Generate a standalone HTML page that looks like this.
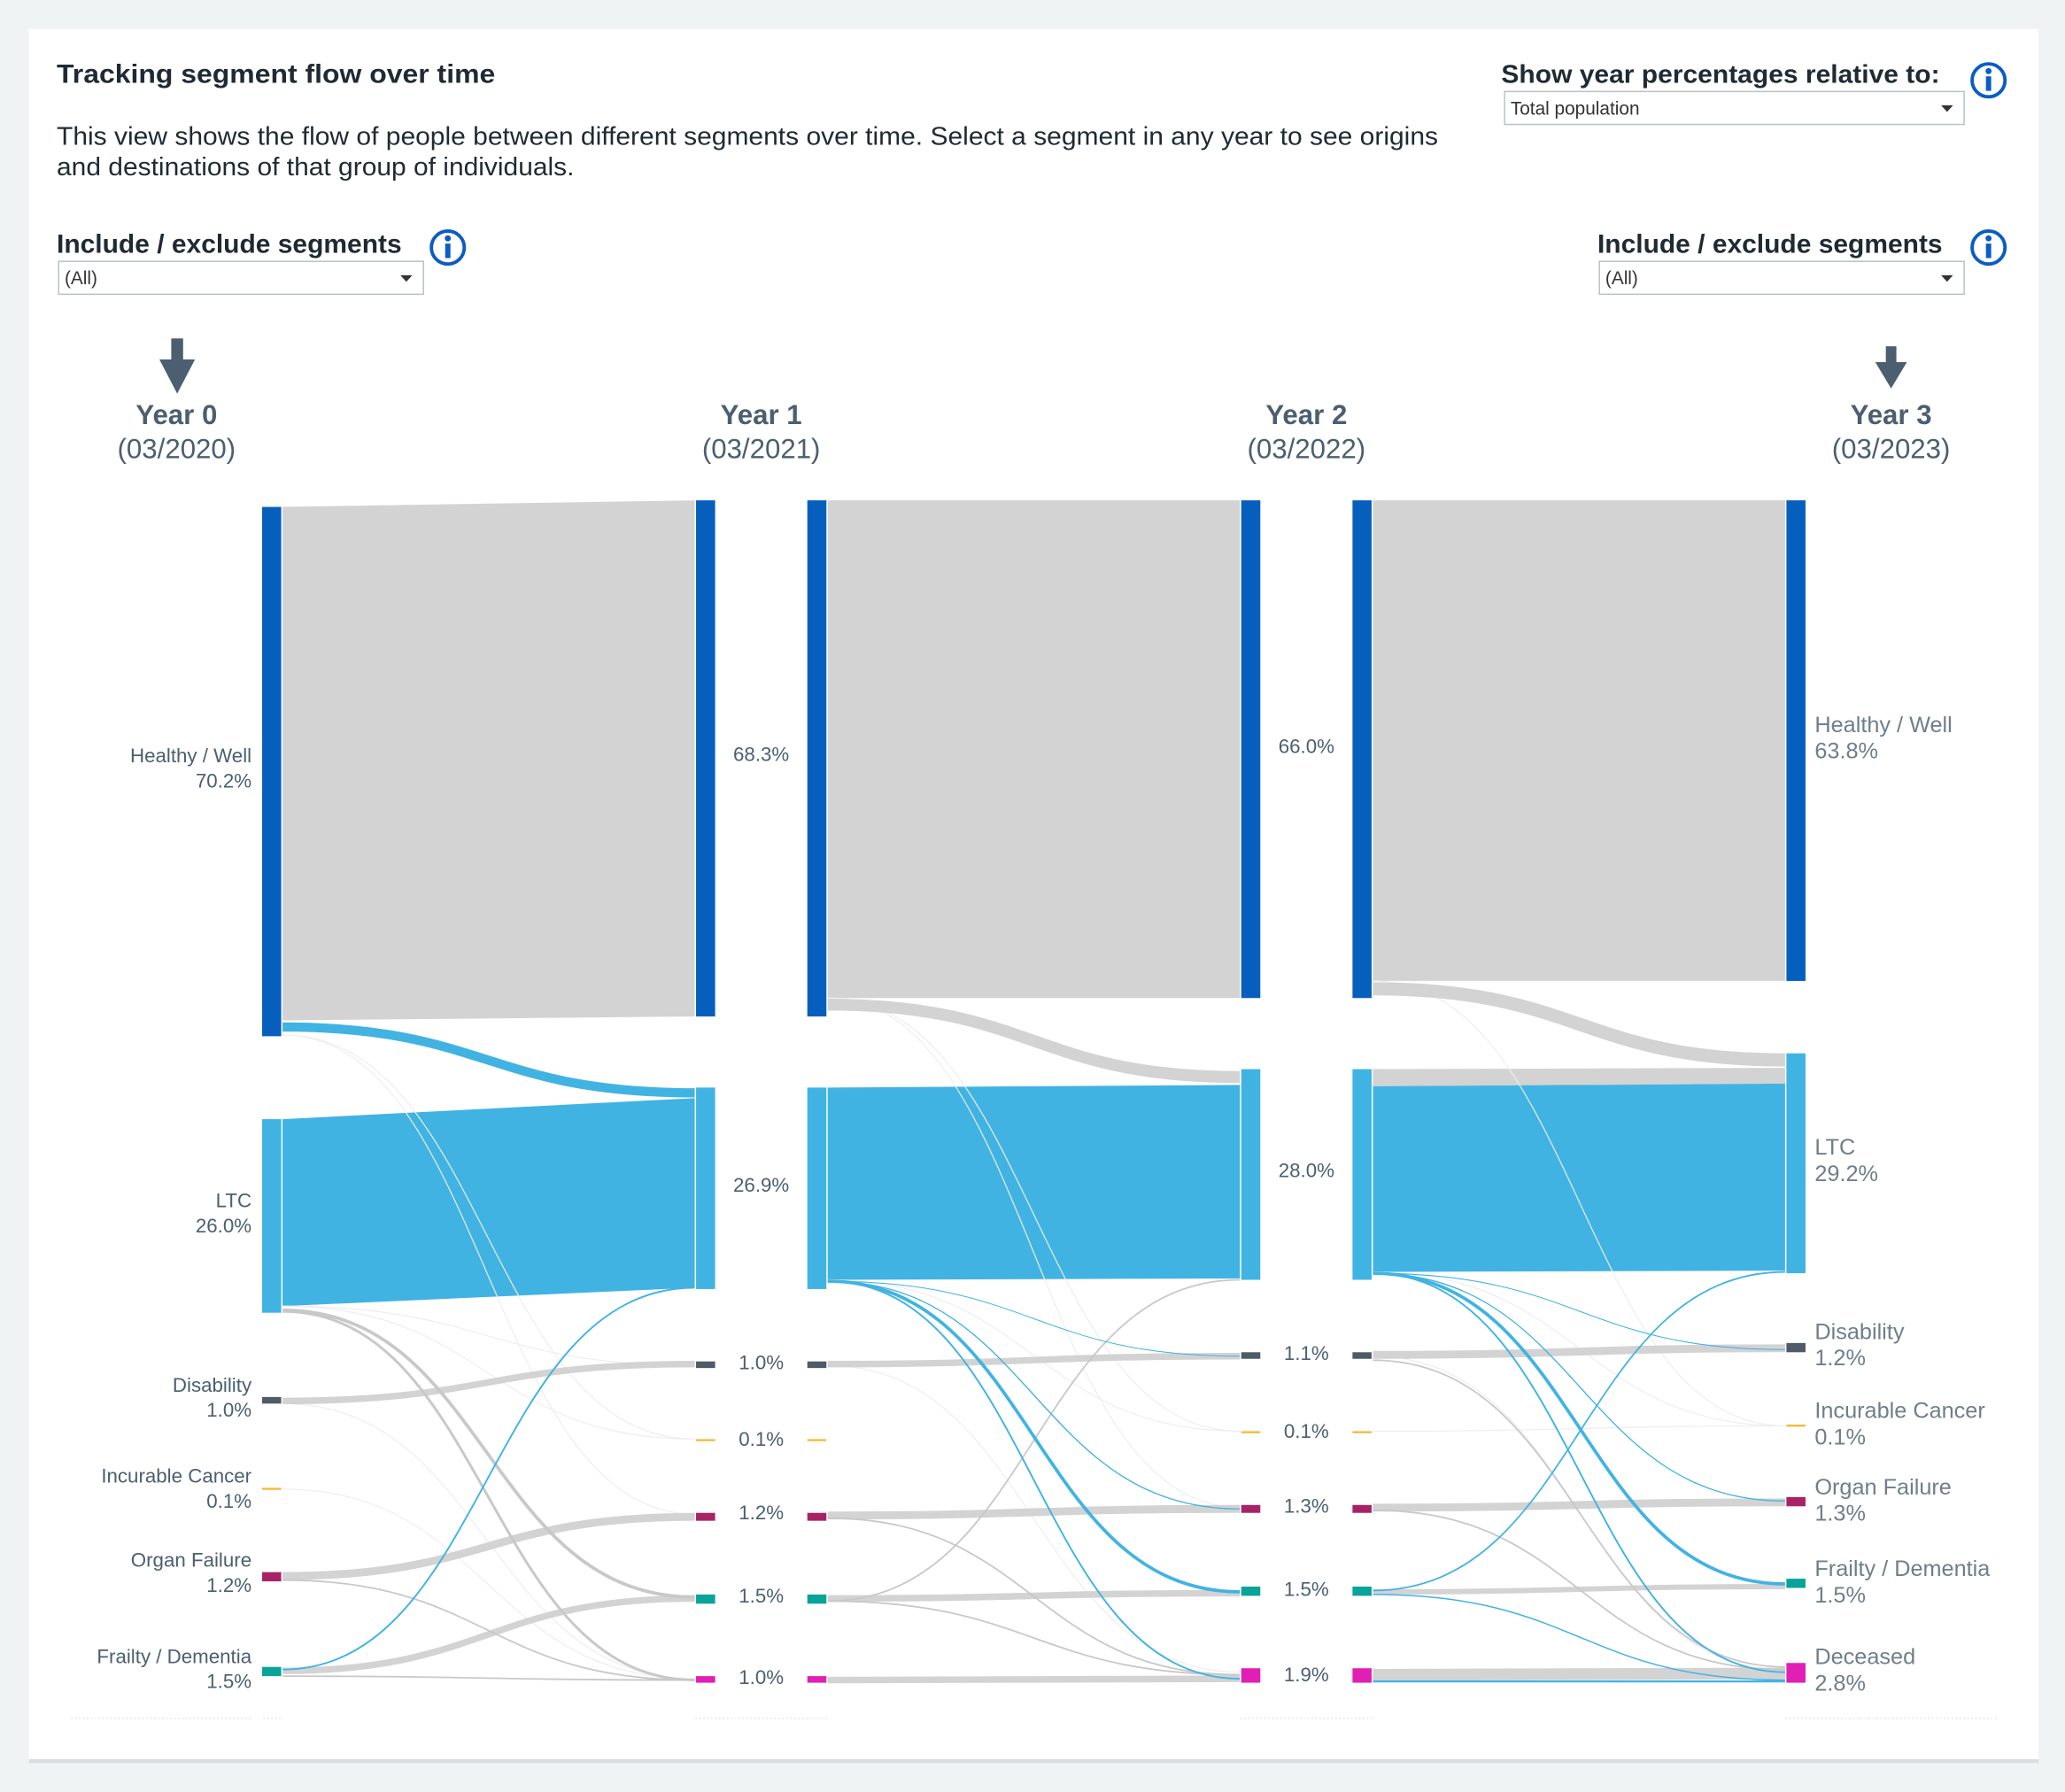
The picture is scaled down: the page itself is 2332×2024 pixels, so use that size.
<!DOCTYPE html>
<html><head><meta charset="utf-8"><style>
html,body{margin:0;padding:0;background:#f0f3f3;}
svg{display:block;font-family:"Liberation Sans",Arial,sans-serif;}
</style></head><body>
<svg width="2332" height="2024" viewBox="0 0 1568 1361" xmlns="http://www.w3.org/2000/svg">
<rect x="0" y="0" width="1568" height="1361" fill="#f0f3f3"/>
<rect x="22" y="22" width="1526" height="1316" fill="#fff"/>
<rect x="22" y="1336" width="1526" height="3" fill="#d8dde0"/>
<text x="43" y="63" font-size="20" font-weight="bold" fill="#1f2a33" textLength="333" lengthAdjust="spacingAndGlyphs">Tracking segment flow over time</text>
<text x="43" y="110" font-size="19" fill="#1f2a33" textLength="1049" lengthAdjust="spacingAndGlyphs">This view shows the flow of people between different segments over time. Select a segment in any year to see origins</text>
<text x="43" y="133" font-size="19" fill="#1f2a33" textLength="393" lengthAdjust="spacingAndGlyphs">and destinations of that group of individuals.</text>
<text x="1140" y="63" font-size="19.5" font-weight="bold" fill="#1f2a33" textLength="333" lengthAdjust="spacingAndGlyphs">Show year percentages relative to:</text>
<rect x="1142.5" y="69.5" width="349" height="25" fill="#fff" stroke="#b9c1c6"/>
<text x="1147" y="87" font-size="14" fill="#333">Total population</text>
<path d="M1474 80 h9 l-4.5 5z" fill="#333"/>
<text x="43" y="192" font-size="20" font-weight="bold" fill="#1f2a33" textLength="262" lengthAdjust="spacingAndGlyphs">Include / exclude segments</text>
<rect x="44.5" y="198.5" width="277" height="25" fill="#fff" stroke="#b9c1c6"/>
<text x="49" y="216" font-size="14" fill="#333">(All)</text>
<path d="M304 209 h9 l-4.5 5z" fill="#333"/>
<text x="1213" y="192" font-size="20" font-weight="bold" fill="#1f2a33" textLength="262" lengthAdjust="spacingAndGlyphs">Include / exclude segments</text>
<rect x="1214.5" y="198.5" width="277" height="25" fill="#fff" stroke="#b9c1c6"/>
<text x="1219" y="216" font-size="14" fill="#333">(All)</text>
<path d="M1474 209 h9 l-4.5 5z" fill="#333"/>
<g fill="none" stroke="#0b5cc4" stroke-width="2.6">
<circle cx="1510" cy="61" r="12.5"/><circle cx="340" cy="188" r="12.5"/><circle cx="1510" cy="188" r="12.5"/></g>
<g fill="#0b5cc4"><circle cx="1510" cy="54" r="2.3"/><rect x="1508" y="58" width="4" height="11"/>
<circle cx="340" cy="181" r="2.3"/><rect x="338" y="185" width="4" height="11"/>
<circle cx="1510" cy="181" r="2.3"/><rect x="1508" y="185" width="4" height="11"/></g>
<path d="M130 257 h9 v16 h9 l-13.5 26 l-13.5 -26 h9z" fill="#4b5f70"/>
<path d="M1432 263 h8 v12 h8 l-12 20 l-12 -20 h8z" fill="#4b5f70"/>
<g font-size="21" fill="#4b5f70" text-anchor="middle">
<text x="134" y="322" font-weight="bold">Year 0</text><text x="134" y="348">(03/2020)</text>
<text x="578" y="322" font-weight="bold">Year 1</text><text x="578" y="348">(03/2021)</text>
<text x="992" y="322" font-weight="bold">Year 2</text><text x="992" y="348">(03/2022)</text>
<text x="1436" y="322" font-weight="bold">Year 3</text><text x="1436" y="348">(03/2023)</text>
</g>
<g fill="#d3d3d3">
<path d="M214 385 L528 380 L528 772 L214 775Z"/>
<path d="M628 380 L942 380 L942 758 L628 758Z"/>
<path d="M1042 380 L1356 380 L1356 745 L1042 745Z"/>
<path d="M1042 812 L1356 811 L1356 823 L1042 825Z"/>
</g>
<g fill="#41b3e3">
<path d="M214 850 L528 834 L528 978 L214 992Z"/>
<path d="M628 826 L942 824 L942 971 L628 972Z"/>
<path d="M1042 825 L1356 823 L1356 965 L1042 966Z"/>
</g>
<g fill="none" stroke="#eeeeee" stroke-width="0.8">
<path d="M214 786 C370 786 370 1093 528 1093"/><path d="M214 786 C370 786 370 1150 528 1150"/>
<path d="M214 992 C370 992 370 1093 528 1093"/><path d="M214 992 C370 992 370 1037 528 1037"/>
<path d="M214 1131 C370 1131 370 1275 528 1275"/><path d="M214 1066 C370 1066 370 1275 528 1275"/>
<path d="M628 758 C785 758 785 1087 942 1087"/><path d="M628 758 C785 758 785 1145 942 1145"/>
<path d="M628 972 C785 972 785 1087 942 1087"/><path d="M628 1037 C785 1037 785 1270 942 1270"/>
<path d="M1042 745 C1200 745 1200 1083 1356 1083"/><path d="M1042 966 C1200 966 1200 1083 1356 1083"/>
<path d="M1042 1030 C1200 1030 1200 1268 1356 1268"/><path d="M1042 1087 C1200 1087 1200 1083 1356 1083"/>
</g>
<g fill="none" stroke="#d3d3d3">
<path d="M214 1064 C370 1064 370 1036 528 1036" stroke-width="5"/>
<path d="M214 1197 C370 1197 370 1152 528 1152" stroke-width="6"/>
<path d="M214 1269 C370 1269 370 1214 528 1214" stroke-width="5"/>
<path d="M214 995 C370 995 370 1213 528 1213" stroke-width="2.5" stroke="#c8c8c8"/>
<path d="M214 996 C370 996 370 1276 528 1276" stroke-width="2" stroke="#c8c8c8"/>
<path d="M214 1200 C370 1200 370 1276 528 1276" stroke-width="1.2" stroke="#c8c8c8"/>
<path d="M214 1273 C370 1273 370 1276 528 1276" stroke-width="1.2" stroke="#c8c8c8"/>
<path d="M628 763 C785 763 785 818 942 818" stroke-width="9"/>
<path d="M628 1036 C785 1036 785 1030 942 1030" stroke-width="5"/>
<path d="M628 1151 C785 1151 785 1146 942 1146" stroke-width="6"/>
<path d="M628 1214 C785 1214 785 1210 942 1210" stroke-width="5"/>
<path d="M628 1276 C785 1276 785 1275 942 1275" stroke-width="5"/>
<path d="M628 1216 C785 1216 785 972 942 972" stroke-width="1.2" stroke="#c8c8c8"/>
<path d="M628 1153 C785 1153 785 1272 942 1272" stroke-width="1.2" stroke="#c8c8c8"/>
<path d="M628 1216 C785 1216 785 1272 942 1272" stroke-width="1.2" stroke="#c8c8c8"/>
<path d="M1042 751 C1200 751 1200 805 1356 805" stroke-width="10"/>
<path d="M1042 1029 C1200 1029 1200 1024 1356 1024" stroke-width="6"/>
<path d="M1042 1145 C1200 1145 1200 1141 1356 1141" stroke-width="6"/>
<path d="M1042 1209 C1200 1209 1200 1205 1356 1205" stroke-width="4"/>
<path d="M1042 1272 C1200 1272 1200 1271 1356 1271" stroke-width="9"/>
<path d="M1042 1147 C1200 1147 1200 1268 1356 1268" stroke-width="1.2" stroke="#c8c8c8"/>
<path d="M1042 1033 C1200 1033 1200 1266 1356 1266" stroke-width="1.2" stroke="#c8c8c8"/>
</g>
<g fill="none" stroke="#41b3e3">
<path d="M214 780 C370 780 370 830 528 830" stroke-width="7"/>
<path d="M214 1268 C370 1268 370 978 528 978" stroke-width="1.3"/>
<path d="M628 973 C785 973 785 1209 942 1209" stroke-width="2.5"/>
<path d="M628 973 C785 973 785 1275 942 1275" stroke-width="1.3"/>
<path d="M628 973 C785 973 785 1146 942 1146" stroke-width="0.9"/>
<path d="M628 973 C785 973 785 1030 942 1030" stroke-width="0.7"/>
<path d="M1042 967 C1200 967 1200 1203 1356 1203" stroke-width="2.5"/>
<path d="M1042 967 C1200 967 1200 1270 1356 1270" stroke-width="1.3"/>
<path d="M1042 967 C1200 967 1200 1140 1356 1140" stroke-width="0.9"/>
<path d="M1042 967 C1200 967 1200 1025 1356 1025" stroke-width="0.7"/>
<path d="M1042 1208 C1200 1208 1200 966 1356 966" stroke-width="1.2"/>
<path d="M1042 1211 C1200 1211 1200 1276 1356 1276" stroke-width="1"/>
<path d="M1042 1277 C1200 1277 1200 1277 1356 1277" stroke-width="1.5"/>
</g>
<g>
<rect x="199" y="385" width="15" height="402" fill="#065fbc"/>
<rect x="199" y="850" width="15" height="147" fill="#41b3e3"/>
<rect x="199" y="1061" width="15" height="5" fill="#4f5b66"/>
<rect x="199" y="1130" width="15" height="1.5" fill="#f5b731"/>
<rect x="199" y="1194" width="15" height="7" fill="#a82366"/>
<rect x="199" y="1266" width="15" height="7" fill="#0aa39a"/>
</g>
<g id="c1">
<rect x="528" y="380" width="15" height="392" fill="#065fbc"/>
<rect x="528" y="826" width="15" height="153" fill="#41b3e3"/>
<rect x="528" y="1034" width="15" height="5" fill="#4f5b66"/>
<rect x="528" y="1093" width="15" height="1.5" fill="#f5b731"/>
<rect x="528" y="1149" width="15" height="6" fill="#a82366"/>
<rect x="528" y="1211" width="15" height="7" fill="#0aa39a"/>
<rect x="528" y="1273" width="15" height="5" fill="#e11fb5"/>
</g>
<use href="#c1" x="85"/>
<g id="c2">
<rect x="942" y="380" width="15" height="378" fill="#065fbc"/>
<rect x="942" y="812" width="15" height="160" fill="#41b3e3"/>
<rect x="942" y="1027" width="15" height="5" fill="#4f5b66"/>
<rect x="942" y="1087" width="15" height="1.5" fill="#f5b731"/>
<rect x="942" y="1143" width="15" height="6" fill="#a82366"/>
<rect x="942" y="1205" width="15" height="7" fill="#0aa39a"/>
<rect x="942" y="1267" width="15" height="11" fill="#e11fb5"/>
</g>
<use href="#c2" x="85"/>
<g>
<rect x="1356" y="380" width="15" height="365" fill="#065fbc"/>
<rect x="1356" y="800" width="15" height="167" fill="#41b3e3"/>
<rect x="1356" y="1020" width="15" height="7" fill="#4f5b66"/>
<rect x="1356" y="1082" width="15" height="1.5" fill="#f5b731"/>
<rect x="1356" y="1137" width="15" height="7" fill="#a82366"/>
<rect x="1356" y="1199" width="15" height="7" fill="#0aa39a"/>
<rect x="1356" y="1263" width="15" height="15" fill="#e11fb5"/>
</g>
<g fill="#fff"><rect x="627.5" y="380" width="1" height="900"/><rect x="1041.5" y="380" width="1" height="900"/><rect x="527.5" y="380" width="1" height="900"/><rect x="941.5" y="380" width="1" height="900"/><rect x="1355.5" y="380" width="1" height="900"/><rect x="213.5" y="380" width="1" height="900"/></g>
<g stroke="#ddd" stroke-dasharray="1,2"><path d="M54 1305 H190 M200 1305 H213 M528 1305 H628 M942 1305 H1042 M1356 1305 H1516"/></g>
<g font-size="15" fill="#4b5f70" text-anchor="end">
<text x="191" y="579">Healthy / Well</text><text x="191" y="598">70.2%</text>
<text x="191" y="917">LTC</text><text x="191" y="936">26.0%</text>
<text x="191" y="1057">Disability</text><text x="191" y="1076">1.0%</text>
<text x="191" y="1126">Incurable Cancer</text><text x="191" y="1145">0.1%</text>
<text x="191" y="1190">Organ Failure</text><text x="191" y="1209">1.2%</text>
<text x="191" y="1263">Frailty / Dementia</text><text x="191" y="1282">1.5%</text>
</g>
<g font-size="15" fill="#4b5f70" text-anchor="middle">
<text x="578" y="578">68.3%</text><text x="578" y="905">26.9%</text><text x="578" y="1040">1.0%</text><text x="578" y="1098">0.1%</text><text x="578" y="1154">1.2%</text><text x="578" y="1217">1.5%</text><text x="578" y="1279">1.0%</text>
<text x="992" y="572">66.0%</text><text x="992" y="894">28.0%</text><text x="992" y="1033">1.1%</text><text x="992" y="1092">0.1%</text><text x="992" y="1149">1.3%</text><text x="992" y="1212">1.5%</text><text x="992" y="1277">1.9%</text>
</g>
<g font-size="17" fill="#6f7e8a">
<text x="1378" y="556">Healthy / Well</text><text x="1378" y="576">63.8%</text>
<text x="1378" y="877">LTC</text><text x="1378" y="897">29.2%</text>
<text x="1378" y="1017">Disability</text><text x="1378" y="1037">1.2%</text>
<text x="1378" y="1077">Incurable Cancer</text><text x="1378" y="1097">0.1%</text>
<text x="1378" y="1135">Organ Failure</text><text x="1378" y="1155">1.3%</text>
<text x="1378" y="1197">Frailty / Dementia</text><text x="1378" y="1217">1.5%</text>
<text x="1378" y="1264">Deceased</text><text x="1378" y="1284">2.8%</text>
</g>
</svg>
</body></html>
